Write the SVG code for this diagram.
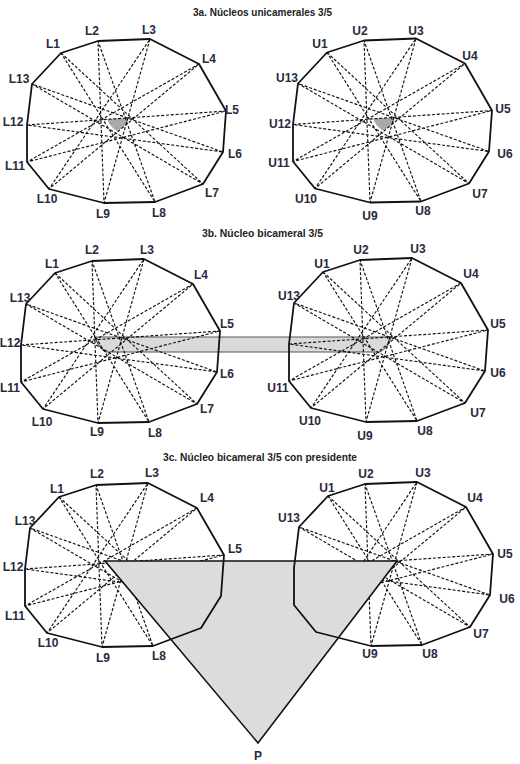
<svg xmlns="http://www.w3.org/2000/svg" xmlns:xlink="http://www.w3.org/1999/xlink" width="520" height="764" viewBox="0 0 520 764">
<style>
.ring{fill:none;stroke:#111;stroke-width:1.8;stroke-linejoin:round}
.star{fill:none;stroke:#111;stroke-width:1.15;stroke-dasharray:3 1.8}
.kern{fill:#a9a9a9;stroke:none}
.lab{font-family:"Liberation Sans",Arial,sans-serif;font-size:12px;font-weight:bold;fill:#2a2a3c;text-anchor:middle}
.ttl{font-family:"Liberation Sans",Arial,sans-serif;font-size:10.5px;font-weight:bold;fill:#222}
</style>
<defs>
<polygon id="ring" points="61,53 98,41 150,39 199,64 226,111 223,152 203,184 155,202 104,203 49,189 27,162 27,125 32,84"/>
<polygon id="star" points="61,53 203,184 32,84 223,152 27,125 226,111 27,162 199,64 49,189 150,39 104,203 98,41 155,202"/>
<path id="kern" d="M107,119 L129,118 Q126,127 117,131 Q110,127 107,119 Z"/>
</defs>
<rect width="520" height="764" fill="#fff"/>

<!-- 3a -->
<text class="ttl" x="193" y="16" textLength="139" lengthAdjust="spacingAndGlyphs">3a. Núcleos unicamerales 3/5</text>
<g id="kernels-3a">
<use xlink:href="#kern" class="kern"/>
<use xlink:href="#kern" class="kern" transform="translate(266,-0.5)"/>
</g>
<g id="connectors-3a">
<use xlink:href="#star" class="star"/>
<use xlink:href="#star" class="star" transform="translate(266,-0.5)"/>
</g>
<g id="node-3a-L">
<use xlink:href="#ring" class="ring"/>
<text class="lab" x="53" y="48">L1</text><text class="lab" x="92" y="35">L2</text><text class="lab" x="149" y="34">L3</text><text class="lab" x="209" y="63">L4</text><text class="lab" x="232" y="114">L5</text><text class="lab" x="235" y="158">L6</text><text class="lab" x="212" y="197">L7</text><text class="lab" x="159" y="217">L8</text><text class="lab" x="103" y="218">L9</text><text class="lab" x="47" y="203">L10</text><text class="lab" x="15" y="170">L11</text><text class="lab" x="13" y="126">L12</text><text class="lab" x="19" y="83">L13</text>
</g>
<g id="node-3a-U">
<use xlink:href="#ring" class="ring" transform="translate(266,-0.5)"/>
<text class="lab" x="320" y="48">U1</text><text class="lab" x="360" y="35">U2</text><text class="lab" x="416" y="35">U3</text><text class="lab" x="470" y="60">U4</text><text class="lab" x="503" y="113">U5</text><text class="lab" x="505" y="158">U6</text><text class="lab" x="480" y="198">U7</text><text class="lab" x="423" y="215">U8</text><text class="lab" x="370" y="220">U9</text><text class="lab" x="306" y="203">U10</text><text class="lab" x="279" y="167">U11</text><text class="lab" x="280" y="128">U12</text><text class="lab" x="287" y="82">U13</text>
</g>

<!-- 3b -->
<text class="ttl" x="202" y="237" textLength="121" lengthAdjust="spacingAndGlyphs">3b. Núcleo bicameral 3/5</text>
<g id="bar-3b">
<path d="M95,337 L391,337 Q389,347 380,352 L106,352 Q98,347 95,337 Z" fill="#dadada" stroke="#555" stroke-width="1.1"/>
</g>
<g id="connectors-3b">
<use xlink:href="#star" class="star" transform="translate(-6,220)"/>
<use xlink:href="#star" class="star" transform="translate(262,219)"/>
</g>
<g id="node-3b-L">
<use xlink:href="#ring" class="ring" transform="translate(-6,220)"/>
<text class="lab" x="52" y="268">L1</text><text class="lab" x="92" y="254">L2</text><text class="lab" x="147" y="254">L3</text><text class="lab" x="201" y="279">L4</text><text class="lab" x="227" y="328">L5</text><text class="lab" x="227" y="378">L6</text><text class="lab" x="207" y="413">L7</text><text class="lab" x="155" y="437">L8</text><text class="lab" x="97" y="436">L9</text><text class="lab" x="42" y="426">L10</text><text class="lab" x="10" y="392">L11</text><text class="lab" x="10" y="347">L12</text><text class="lab" x="20" y="302">L13</text>
</g>
<g id="node-3b-U">
<use xlink:href="#ring" class="ring" transform="translate(262,219)"/>
<text class="lab" x="322" y="268">U1</text><text class="lab" x="361" y="254">U2</text><text class="lab" x="418" y="253">U3</text><text class="lab" x="471" y="278">U4</text><text class="lab" x="498" y="328">U5</text><text class="lab" x="498" y="377">U6</text><text class="lab" x="478" y="417">U7</text><text class="lab" x="425" y="435">U8</text><text class="lab" x="365" y="440">U9</text><text class="lab" x="310" y="425">U10</text><text class="lab" x="278" y="392">U11</text><text class="lab" x="289" y="300">U13</text>
</g>

<!-- 3c -->
<text class="ttl" x="163" y="461" textLength="194" lengthAdjust="spacingAndGlyphs">3c. Núcleo bicameral 3/5 con presidente</text>
<g id="connectors-3c">
<use xlink:href="#star" class="star" transform="translate(-2,444)"/>
<use xlink:href="#star" class="star" transform="translate(267,443)"/>
</g>
<g id="node-P">
<polygon points="105,561 397,561 258,743" fill="#dcdcdc" stroke="none"/>
</g>
<g id="node-3c-L">
<use xlink:href="#ring" class="ring" transform="translate(-2,444)"/>
<text class="lab" x="57" y="493">L1</text><text class="lab" x="97" y="478">L2</text><text class="lab" x="152" y="477">L3</text><text class="lab" x="207" y="502">L4</text><text class="lab" x="235" y="553">L5</text><text class="lab" x="159" y="660">L8</text><text class="lab" x="103" y="662">L9</text><text class="lab" x="48" y="647">L10</text><text class="lab" x="15" y="620">L11</text><text class="lab" x="13" y="571">L12</text><text class="lab" x="25" y="525">L13</text>
</g>
<g id="node-3c-U">
<use xlink:href="#ring" class="ring" transform="translate(267,443)"/>
<text class="lab" x="327" y="492">U1</text><text class="lab" x="366" y="478">U2</text><text class="lab" x="423" y="477">U3</text><text class="lab" x="475" y="502">U4</text><text class="lab" x="505" y="558">U5</text><text class="lab" x="507" y="603">U6</text><text class="lab" x="481" y="638">U7</text><text class="lab" x="430" y="658">U8</text><text class="lab" x="370" y="658">U9</text><text class="lab" x="289" y="522">U13</text>
</g>
<g id="node-P-outline">
<polygon points="105,561 397,561 258,743" fill="none" stroke="#111" stroke-width="1.6" stroke-linejoin="miter"/>
<text class="lab" x="258" y="760">P</text>
</g>
</svg>
